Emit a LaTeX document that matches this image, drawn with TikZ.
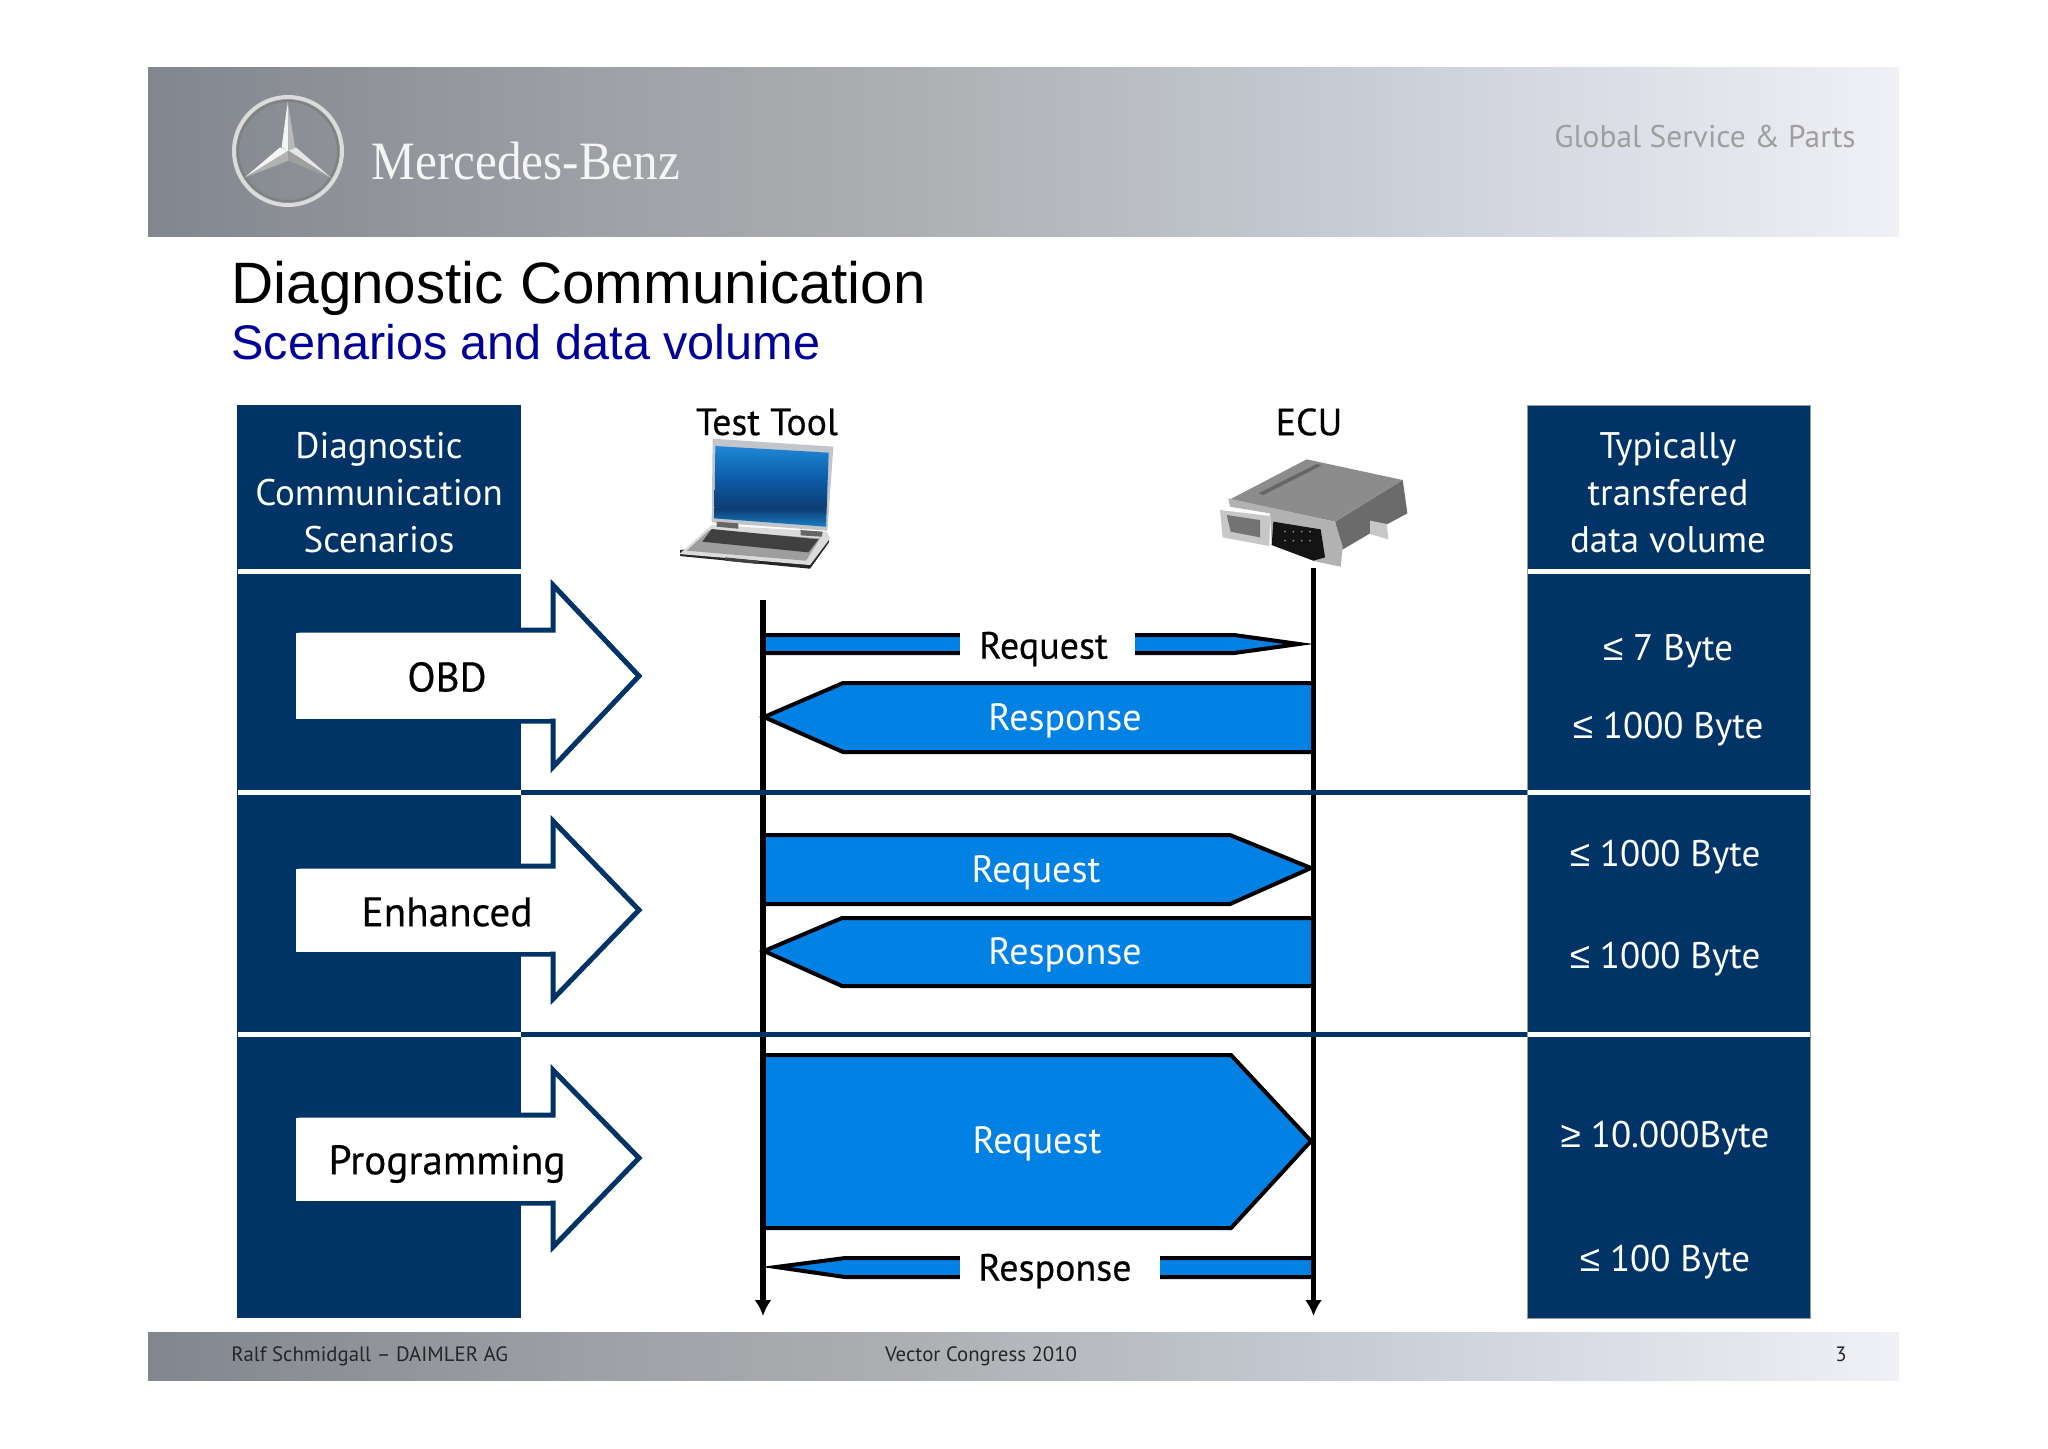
\documentclass[tikz,border=0pt]{standalone}
\usepackage{fontspec}
\setmainfont{PT Sans}
\newfontfamily\titlefont{Liberation Sans}
\newfontfamily\logofont[FakeStretch=0.91]{Liberation Serif}
\newfontfamily\heavyfont[FakeBold=0.4]{PT Sans}
\newfontfamily\cmpfont{Liberation Sans}
\usetikzlibrary{arrows.meta}
\definecolor{navy}{HTML}{003366}
\definecolor{msgblue}{HTML}{0281E5}
\definecolor{titleblue}{HTML}{000099}
\definecolor{lidgrey}{HTML}{C2C5CA}
\pgfdeclarehorizontalshading{bandgrey}{100bp}{rgb(0bp)=(.51,.525,.557); rgb(25bp)=(.51,.525,.557); rgb(38bp)=(.62,.63,.65); rgb(47bp)=(.68,.69,.70); rgb(57bp)=(.76,.78,.81); rgb(68bp)=(.87,.88,.91); rgb(75bp)=(.94,.945,.965); rgb(100bp)=(.94,.945,.965)}
\pgfdeclareverticalshading{screenblue}{100bp}{rgb(0bp)=(.10,.50,.78); rgb(25bp)=(.10,.50,.78); rgb(36bp)=(.05,.24,.45); rgb(55bp)=(.05,.36,.66); rgb(75bp)=(.12,.53,.84); rgb(100bp)=(.12,.53,.84)}
\begin{document}
\begin{tikzpicture}[x=.5pt,y=-.5pt,
  panel/.style = {fill=navy,draw=none},
  sideline/.style = {fill=white,draw=none},
  rowline/.style = {draw=navy,line width=2.5pt},
  scenario/.style = {fill=white,draw=navy,line width=2.5pt,miter limit=10},
  msg/.style = {fill=msgblue,draw=black,line width=2pt},
  life/.style = {draw=black,line width=2.6pt,-{Latex[length=8pt,width=8.5pt]}},
  headtext/.style = {align=center,text=white,font=\fontsize{18.5}{23.5}\selectfont,inner sep=0pt},
  msgtext/.style = {text=white,font=\fontsize{19}{22}\selectfont,inner sep=0pt,yshift=-1.5pt},
  valtext/.style = {text=white,font=\fontsize{18.5}{22}\selectfont,inner sep=0pt,yshift=-1.5pt},
  blacktext/.style = {text=black,font=\heavyfont\fontsize{18.9}{22}\selectfont,inner sep=0pt},
  scentext/.style = {text=black,font=\heavyfont\fontsize{20.6}{24}\selectfont,inner sep=0pt},
  gaplabel/.style = {fill=white,text=black,font=\heavyfont\fontsize{19}{22}\selectfont,inner sep=0pt,minimum height=21pt,yshift=-1.5pt},
  foot/.style = {text=black!85,font=\fontsize{10.4}{12}\selectfont,inner sep=0pt}]
\useasboundingbox (0,0) rectangle (2048,1448);
\fill[white] (0,0) rectangle (2048,1448);

\shade[shading=bandgrey] (148,67) rectangle (1899,236);
\shade[shading=bandgrey] (148,1332) rectangle (1899,1380);

% logo
\draw[black!50,line width=1pt] (288,151) circle (50);
\draw[white!72!gray,line width=2pt] (288,151) circle (54);
\begin{scope}[shift={(220,90)},x=.1667pt,y=-.1667pt]
\fill[white!92!gray] (203,35) -- (185,172) -- (205,182) -- cycle;
\fill[white!45!gray] (203,35) -- (225,172) -- (205,182) -- cycle;
\fill[white!92!gray] (75,262) -- (180,172) -- (205,182) -- cycle;
\fill[white!40!gray] (75,262) -- (205,212) -- (205,182) -- cycle;
\fill[white!80!gray] (335,265) -- (228,172) -- (205,182) -- cycle;
\fill[white!25!gray] (335,265) -- (205,212) -- (205,182) -- cycle;
\end{scope}
\node[text=white!92!gray,inner sep=0pt,font=\logofont\fontsize{27}{30}\selectfont] (brand) at (526,161) {Mercedes-Benz};
\node[text=gray!75,inner sep=0pt,font=\fontsize{15.7}{18}\selectfont] (unit) at (1705,136) {Global Service \& Parts};

\node[anchor=west,inner sep=0pt,font=\titlefont\fontsize{29.2}{34}\selectfont] (title) at (231,288) {Diagnostic Communication};
\node[anchor=west,inner sep=0pt,text=titleblue,font=\titlefont\fontsize{24.3}{28}\selectfont] (subtitle) at (231,342) {Scenarios and data volume};

% side panels
\fill[panel] (237,405) rectangle (521,1318);
\draw[panel,draw=gray!80,line width=.5pt] (1527,405) rectangle (1810,1318);
\foreach \y in {571,792,1034} {
  \fill[sideline] (238,\y-2.5) rectangle (521,\y+2.5);
  \fill[sideline] (1528,\y-2.5) rectangle (1810,\y+2.5);
}

\node[headtext] (sceneHead) at (379,493) {Diagnostic\\Communication\\Scenarios};
\node[headtext] (volHead) at (1668,493) {Typically\\transfered\\data volume};

% scenario arrows
\draw[scenario] (296,630) -- (553,630) -- (553,585) -- (639,676) -- (553,767) -- (553,721) -- (296,721) -- cycle;
\draw[scenario] (296,866) -- (553,866) -- (553,821) -- (639,910) -- (553,999) -- (553,954) -- (296,954) -- cycle;
\draw[scenario] (296,1115) -- (553,1115) -- (553,1070) -- (639,1158) -- (553,1247) -- (553,1203) -- (296,1203) -- cycle;
\fill[white] (296,632.5) rectangle (550,718.5);
\fill[white] (296,868.5) rectangle (550,951.5);
\fill[white] (296,1117.5) rectangle (550,1200.5);
\node[scentext] (obd) at (447,677) {OBD};
\node[scentext] (enhanced) at (447,912) {Enhanced};
\node[scentext] (programming) at (447,1164) {Programming};

% laptop
\begin{scope}[shift={(670,430)},x=.1667pt,y=-.1667pt]
\fill[black!85] (30,378) -- (420,416) -- (478,335) -- (470,310) -- (30,360) -- cycle;
\fill[white!72!gray] (125,285) -- (470,305) -- (480,325) -- (420,405) -- (28,372) -- cycle;
\fill[black!38] (118,300) -- (450,325) -- (408,392) -- (50,362) -- cycle;
\fill[black!75] (125,297) -- (445,328) -- (415,367) -- (97,335) -- cycle;
\fill[lidgrey] (128,26) -- (490,50) -- (472,302) -- (125,277) -- cycle;
\shade[shading=screenblue] (136,48) -- (476,68) -- (468,290) -- (133,265) -- cycle;
\fill[black!60] (140,275) -- (205,280) -- (205,296) -- (140,290) -- cycle;
\fill[black!60] (392,300) -- (458,305) -- (455,320) -- (392,316) -- cycle;
\fill[black!75] (165,382) -- (265,392) -- (265,402) -- (165,392) -- cycle;
\end{scope}

% ecu
\begin{scope}[shift={(1210,450)},x=.1667pt,y=-.1667pt]
\fill[black!58] (375,215) -- (578,90) -- (592,190) -- (480,250) -- (395,300) -- cycle;
\fill[black!45] (60,148) -- (290,28) -- (578,90) -- (375,215) -- cycle;
\fill[black!60] (145,130) -- (320,42) -- (335,46) -- (160,135) -- cycle;
\fill[black!22] (480,212) -- (530,222) -- (535,268) -- (480,252) -- cycle;
\fill[black!30] (55,145) -- (375,215) -- (398,290) -- (392,350) -- (320,335) -- (185,285) -- (180,190) -- (60,170) -- cycle;
\fill[black!22] (30,180) -- (180,198) -- (178,288) -- (38,262) -- cycle;
\fill[black!55] (50,195) -- (150,210) -- (150,262) -- (62,245) -- cycle;
\fill[black!92] (190,215) -- (332,238) -- (345,322) -- (310,332) -- (185,285) -- cycle;
\foreach \px in {225,250,...,300} {
  \fill[black!45] (\px,245) circle (3);
  \fill[black!45] (\px,272) circle (3);
}
\end{scope}

\node[blacktext] (toolLabel) at (767,422) {Test Tool};
\node[blacktext] (ecuLabel) at (1309,422) {ECU};

% messages
\draw[msg] (763,635) -- (1234,635) -- (1299,644) -- (1234,653) -- (763,653) -- cycle;
\draw[msg] (1313,683) -- (843,683) -- (764,717) -- (843,752) -- (1313,752) -- cycle;
\draw[msg] (763,835) -- (1230,835) -- (1311,868) -- (1230,904) -- (763,904) -- cycle;
\draw[msg] (1313,918) -- (842,918) -- (764,951) -- (842,986) -- (1313,986) -- cycle;
\draw[msg] (763,1055) -- (1231,1055) -- (1311,1141) -- (1231,1228) -- (763,1228) -- cycle;
\draw[msg] (1313,1258) -- (845,1258) -- (776,1267) -- (845,1277) -- (1313,1277) -- cycle;

\node[gaplabel,minimum width=87.5pt] (req1) at (1047.5,646) {Request\kern4pt};
\node[gaplabel,minimum width=100pt] (resp3) at (1060,1268) {Response\kern5pt};
\node[msgtext] (resp1) at (1065,718) {Response};
\node[msgtext] (req2) at (1036,870) {Request};
\node[msgtext] (resp2) at (1065,952) {Response};
\node[msgtext] (req3) at (1037,1141) {Request};

% life lines
\coordinate (toolTop) at (763,600);
\coordinate (toolEnd) at (763,1316);
\coordinate (ecuTop) at (1313.5,568);
\coordinate (ecuEnd) at (1313.5,1316);
\draw[life] (toolTop) -- (toolEnd);
\draw[life] (ecuTop) -- (ecuEnd);

\coordinate (rowA) at (521,792.5);
\coordinate (rowB) at (1527,792.5);
\coordinate (rowC) at (521,1034);
\coordinate (rowD) at (1527,1034);
\draw[rowline] (rowA) -- (rowB);
\draw[rowline] (rowC) -- (rowD);

\node[valtext] (v1) at (1668,648) {{\cmpfont ≤} 7 Byte};
\node[valtext] (v2) at (1668,726) {{\cmpfont ≤} 1000 Byte};
\node[valtext] (v3) at (1665,854) {{\cmpfont ≤} 1000 Byte};
\node[valtext] (v4) at (1665,956) {{\cmpfont ≤} 1000 Byte};
\node[valtext] (v5) at (1665,1135) {{\cmpfont ≥} 10.000Byte};
\node[valtext] (v6) at (1665,1259) {{\cmpfont ≤} 100 Byte};

\node[foot,anchor=west] (author) at (231,1356) {Ralf Schmidgall – DAIMLER AG};
\node[foot] (event) at (981,1356) {Vector Congress 2010};
\node[foot] (page) at (1841,1354) {3};
\end{tikzpicture}
\end{document}
